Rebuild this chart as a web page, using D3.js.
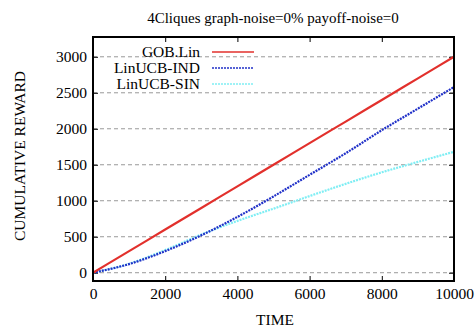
<!DOCTYPE html>
<html><head><meta charset="utf-8">
<script src="https://cdn.jsdelivr.net/npm/d3@7"></script>
<style>body{margin:0;background:#fff}svg{font-family:"Liberation Serif","Times New Roman",serif}</style>
</head><body>
<svg id="c" width="475" height="329"></svg>
<script>
const times = [0,1000,2000,3000,4000,5000,6000,7000,8000,9000,10000];
const gobLin = [0,300,600,900,1200,1500,1800,2100,2400,2700,3000];
const linucbInd = [0,120,300,520,775,1060,1360,1660,1980,2280,2580];
const linucbSin = [0,125,315,530,720,890,1065,1235,1395,1540,1680];
const xTicks = [0,2000,4000,6000,8000,10000];
const yTicks = [0,500,1000,1500,2000,2500,3000];
const seriesNames = ["GOB.Lin","LinUCB-IND","LinUCB-SIN"];
const colors = ["#e2302c","#2030c8","#80eef4"];
const dashes = [null,"2,1","2,1"];

const svg = d3.select("#c");
const L=93,R=454,T=37,B=281;
const x = d3.scaleLinear().domain([0,10000]).range([L,R]);
const y = d3.scaleLinear().domain([-115,3275]).range([B,T]);
const FS = 15.5;

// grid
svg.append("g").selectAll("line").data(yTicks).join("line")
  .attr("x1",L).attr("x2",R).attr("y1",d=>y(d)).attr("y2",d=>y(d))
  .attr("stroke","#999").attr("stroke-dasharray","4,3").attr("stroke-width",1);

// axes
const ax = (g)=>g.selectAll(".domain").remove();
svg.append("g").attr("transform",`translate(0,${B})`)
  .call(d3.axisBottom(x).tickValues(xTicks).tickSize(-5).tickPadding(7).tickFormat(d3.format("d")))
  .call(ax).call(g=>g.selectAll("text").attr("font-size",FS).attr("font-family","Liberation Serif"));
svg.append("g").attr("transform",`translate(0,${T})`)
  .call(d3.axisTop(x).tickValues(xTicks).tickSize(-5).tickFormat(""))
  .call(ax);
svg.append("g").attr("transform",`translate(${L},0)`)
  .call(d3.axisLeft(y).tickValues(yTicks).tickSize(-5).tickPadding(6).tickFormat(d3.format("d")))
  .call(ax).call(g=>g.selectAll("text").attr("font-size",FS).attr("font-family","Liberation Serif"));
svg.append("g").attr("transform",`translate(${R},0)`)
  .call(d3.axisRight(y).tickValues(yTicks).tickSize(-5).tickFormat(""))
  .call(ax);

// lines
const data = [gobLin,linucbInd,linucbSin];
const line = d3.line().x((d,i)=>x(times[i])).y(d=>y(d)).curve(d3.curveMonotoneX);
const order=[2,1,0];
order.forEach(k=>{
  svg.append("path").datum(data[k]).attr("d",line).attr("fill","none")
    .attr("stroke",colors[k]).attr("stroke-width",2.2)
    .attr("stroke-dasharray",dashes[k]);
});

// frame
svg.append("rect").attr("x",L).attr("y",T).attr("width",R-L).attr("height",B-T)
  .attr("fill","none").attr("stroke","#000").attr("stroke-width",2);

// legend
const lg = svg.append("g");
seriesNames.forEach((n,i)=>{
  const yy = 52+i*16;
  lg.append("text").attr("x",200).attr("y",yy+5).attr("text-anchor","end")
    .attr("font-size",FS).text(n);
  lg.append("line").attr("x1",212).attr("x2",254).attr("y1",yy).attr("y2",yy)
    .attr("stroke",colors[i]).attr("stroke-width",1.5).attr("stroke-dasharray",dashes[i]);
});

// titles
svg.append("text").attr("x",273).attr("y",23).attr("text-anchor","middle")
  .attr("font-size",15).text("4Cliques graph-noise=0% payoff-noise=0");
svg.append("text").attr("x",275).attr("y",325).attr("text-anchor","middle")
  .attr("font-size",FS).text("TIME");
svg.append("text").attr("transform","translate(25,156) rotate(-90)").attr("text-anchor","middle")
  .attr("font-size",15.5).text("CUMULATIVE REWARD");
</script>
</body></html>
